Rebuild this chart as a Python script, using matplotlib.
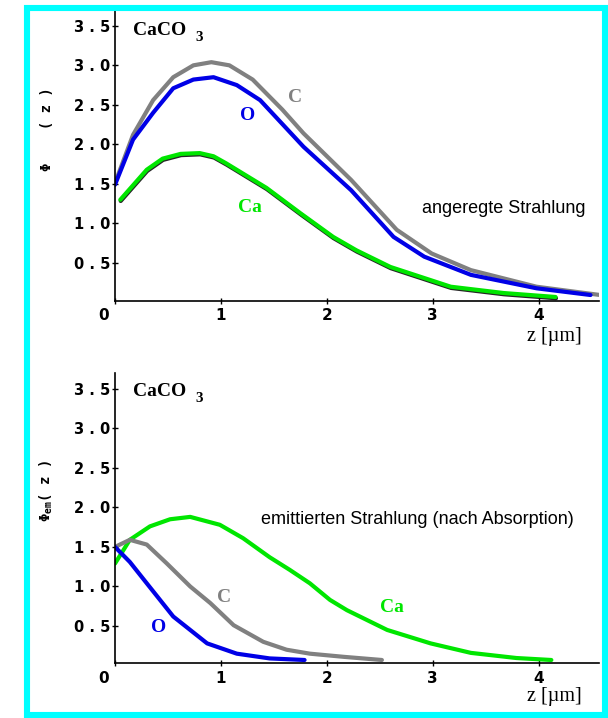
import matplotlib
matplotlib.use("Agg")
import matplotlib.pyplot as plt
import matplotlib.patheffects as pe
from matplotlib.patches import Rectangle
from matplotlib.transforms import ScaledTranslation

# ---------------- data ----------------
# top panel: excited radiation  (z [um], Phi(z))
top_C_z = [0.0, 0.17, 0.36, 0.55, 0.74, 0.91, 1.08, 1.30, 1.58, 1.78, 2.23, 2.66, 2.99, 3.36, 3.98, 4.58]
top_C_y = [1.51, 2.12, 2.56, 2.85, 3.00, 3.04, 3.00, 2.82, 2.44, 2.14, 1.55, 0.92, 0.62, 0.41, 0.20, 0.095]
top_O_z = [0.0, 0.17, 0.36, 0.55, 0.74, 0.93, 1.15, 1.37, 1.53, 1.78, 2.23, 2.63, 2.92, 3.36, 3.98, 4.49]
top_O_y = [1.49, 2.06, 2.40, 2.71, 2.82, 2.85, 2.75, 2.56, 2.33, 1.97, 1.42, 0.83, 0.58, 0.35, 0.18, 0.095]
top_Ca_z = [0.05, 0.30, 0.45, 0.62, 0.80, 0.93, 1.05, 1.43, 1.75, 2.06, 2.28, 2.60, 3.17, 3.67, 4.16]
top_Ca_y = [1.30, 1.68, 1.82, 1.88, 1.89, 1.85, 1.76, 1.45, 1.13, 0.83, 0.66, 0.45, 0.20, 0.12, 0.07]

# bottom panel: emitted radiation (after absorption)
bot_C_z = [0.0, 0.14, 0.30, 0.49, 0.71, 0.90, 1.12, 1.40, 1.62, 1.84, 2.16, 2.52]
bot_C_y = [1.50, 1.59, 1.53, 1.29, 1.00, 0.79, 0.51, 0.30, 0.20, 0.15, 0.11, 0.07]
bot_O_z = [0.0, 0.14, 0.30, 0.55, 0.87, 1.15, 1.46, 1.79]
bot_O_y = [1.50, 1.31, 1.04, 0.62, 0.28, 0.15, 0.09, 0.07]
bot_Ca_z = [0.0, 0.14, 0.33, 0.52, 0.71, 0.99, 1.21, 1.46, 1.65, 1.84, 2.03, 2.19, 2.57, 2.98, 3.36, 3.79, 4.12]
bot_Ca_y = [1.29, 1.59, 1.76, 1.85, 1.88, 1.78, 1.61, 1.37, 1.21, 1.04, 0.83, 0.70, 0.45, 0.28, 0.16, 0.095, 0.07]

x_ticks = [0, 1, 2, 3, 4]
x_tick_labels = ["0", "1", "2", "3", "4"]
y_ticks = [0.5, 1.0, 1.5, 2.0, 2.5, 3.0, 3.5]
y_tick_labels = ["0 . 5", "1 . 0", "1 . 5", "2 . 0", "2 . 5", "3 . 0", "3 . 5"]

# ---------------- style ----------------
W, H = 608, 718
DPI = 100
GRAY = "#808080"
BLUE = "#0000e6"
GREEN = "#00e600"
LW = 3.0

fig = plt.figure(figsize=(W / DPI, H / DPI), dpi=DPI)
fig.patch.set_facecolor("white")


def fx(px):
    return px / W


def fy(py):
    return 1 - py / H


# cyan frame
fig.patches.append(Rectangle((fx(27), fy(715)), fx(605) - fx(27), fy(8) - fy(715),
                             transform=fig.transFigure, fill=False,
                             edgecolor="#00ffff", linewidth=4.4, zorder=0))


def make_axes(top_px, bottom_px):
    ax = fig.add_axes([fx(115), fy(bottom_px), fx(599) - fx(115), fy(top_px) - fy(bottom_px)])
    ax.set_xlim(0, 4.57)
    ax.set_facecolor("none")
    for s in ["top", "right"]:
        ax.spines[s].set_visible(False)
    for s in ["left", "bottom"]:
        ax.spines[s].set_linewidth(1.2)
        ax.spines[s].set_color("black")
    ax.set_xticks(x_ticks)
    ax.set_xticklabels(x_tick_labels, fontfamily="DejaVu Sans", fontweight="bold", fontsize=11)
    ax.set_yticks(y_ticks)
    ax.set_yticklabels(y_tick_labels, fontfamily="DejaVu Sans", fontweight="bold", fontsize=10.5)
    ax.tick_params(axis="both", direction="inout", length=5, width=1.0, colors="black")
    ax.tick_params(axis="y", pad=1)
    ax.tick_params(axis="x", pad=3)
    lab0 = ax.get_xticklabels()[0]
    lab0.set_transform(lab0.get_transform() + ScaledTranslation(-11 / DPI, 0, fig.dpi_scale_trans))
    return ax


ax1 = make_axes(10, 300.7)
ax1.set_ylim(0.023, 3.70)
ax2 = make_axes(373, 663)
ax2.set_ylim(0.032, 3.70)

# top curves
ax1.plot(top_Ca_z, top_Ca_y, color=GREEN, lw=LW, solid_capstyle="round",
         path_effects=[pe.SimpleLineShadow(offset=(0.3, -0.9), shadow_color="black", alpha=0.85), pe.Normal()])
ax1.plot(top_C_z, top_C_y, color=GRAY, lw=LW, solid_capstyle="round")
ax1.plot(top_O_z, top_O_y, color=BLUE, lw=LW, solid_capstyle="round")

# bottom curves
ax2.plot(bot_Ca_z, bot_Ca_y, color=GREEN, lw=LW, solid_capstyle="round")
ax2.plot(bot_C_z, bot_C_y, color=GRAY, lw=LW, solid_capstyle="round")
ax2.plot(bot_O_z, bot_O_y, color=BLUE, lw=LW, solid_capstyle="round")

serif_b = dict(fontfamily="Liberation Serif", fontweight="bold")


def ftext(px, py, s, **kw):
    fig.text(fx(px), fy(py), s, **kw)


# CaCO3 labels
for yb in (35, 396):
    ftext(133, yb, "CaCO", fontsize=14, ha="left", va="baseline", **serif_b)
    ftext(195, yb + 6, "3", fontsize=11, ha="left", va="baseline", **serif_b)

# element labels
ftext(295, 98, "C", color=GRAY, fontsize=14, ha="center", va="center", **serif_b)
ftext(248, 115, "O", color=BLUE, fontsize=14, ha="center", va="center", **serif_b)
ftext(250, 207, "Ca", color=GREEN, fontsize=14, ha="center", va="center", **serif_b)

ftext(224, 598, "C", color=GRAY, fontsize=14, ha="center", va="center", **serif_b)
ftext(159, 627, "O", color=BLUE, fontsize=14, ha="center", va="center", **serif_b)
ftext(392, 608, "Ca", color=GREEN, fontsize=14, ha="center", va="center", **serif_b)

# descriptive texts
ftext(422, 208, "angeregte Strahlung", fontsize=13, fontfamily="Liberation Sans",
      ha="left", va="center")
ftext(261, 520, "emittierten Strahlung (nach Absorption)", fontsize=13,
      fontfamily="Liberation Sans", ha="left", va="center")

# axis titles
for yb in (337, 697):
    ftext(554, yb, "z [µm]", fontsize=14.5, fontfamily="Liberation Serif", ha="center", va="center")

plt.rcParams["mathtext.fontset"] = "custom"
plt.rcParams["mathtext.bf"] = "DejaVu Sans Mono:bold"
plt.rcParams["mathtext.rm"] = "DejaVu Sans Mono:bold"
ftext(47, 129, "Φ    ( z )", fontsize=10, fontfamily="DejaVu Sans Mono", fontweight="bold",
      rotation=90, ha="center", va="center")
ftext(46, 491, r"Φ$_{\mathbf{em}}$( z )", fontsize=10, fontfamily="DejaVu Sans Mono",
      fontweight="bold", rotation=90, ha="center", va="center")

fig.savefig("out.png", dpi=DPI, facecolor="white")
